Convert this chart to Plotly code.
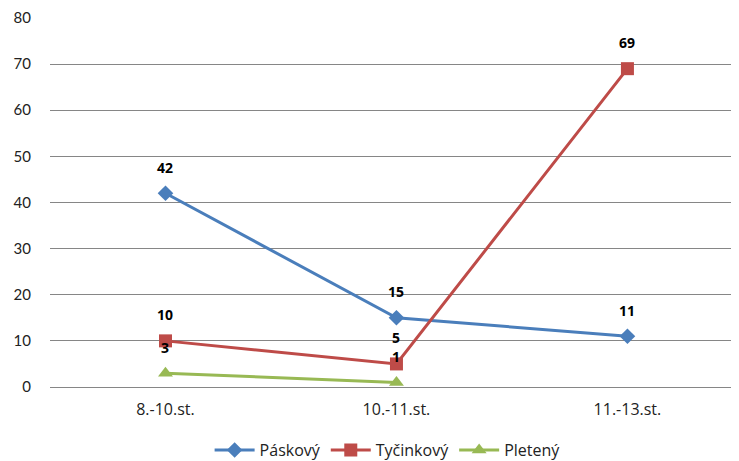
import plotly.graph_objects as go

categories = ["8.-10.st.", "10.-11.st.", "11.-13.st."]
paskovy = [42, 15, 11]
tycinkovy = [10, 5, 69]
pleteny = [3, 1, None]
series_names = ["Páskový", "Tyčinkový", "Pletený"]
y_ticks = [0, 10, 20, 30, 40, 50, 60, 70, 80]

colors = ["#4A7EBB", "#BE4B48", "#98B954"]
symbols = ["diamond", "square", "triangle-up"]
sizes = [12, 13, 13]
wide_font = "'Open Sans', Lato, sans-serif"
narrow_font = "Lato, 'Open Sans', sans-serif"

fig = go.Figure()
annotations = []
for name, vals, col, sym, sz in zip(series_names, [paskovy, tycinkovy, pleteny], colors, symbols, sizes):
    fig.add_trace(go.Scatter(
        x=categories, y=vals, name=name, mode="lines+markers",
        line=dict(color=col, width=3),
        marker=dict(symbol=sym, size=sz, color=col),
        connectgaps=False,
    ))
    for c, v in zip(categories, vals):
        if v is None:
            continue
        annotations.append(dict(
            x=c, y=v, text=f"<b>{v}</b>", showarrow=False,
            yshift=26, font=dict(family=wide_font, size=14, color="#000000"),
        ))

# page body has an 8px margin, so the figure is sized to fit the 739x461 window
fig.update_layout(
    width=731, height=453,
    margin=dict(l=42, r=0, t=9, b=74, autoexpand=False),
    paper_bgcolor="white", plot_bgcolor="white",
    font=dict(family=wide_font, size=15, color="#222222"),
    annotations=annotations,
    showlegend=True,
    legend=dict(orientation="h", x=0.49, xanchor="center", yref="container",
                y=0.024, yanchor="middle",
                font=dict(family=wide_font, size=16, color="#222222"),
                itemwidth=40, tracegroupgap=0),
    xaxis=dict(type="category", showgrid=False, showline=True, linecolor="#868686",
               linewidth=1, ticks="", tickfont=dict(family=wide_font, size=16),
               ticklabelstandoff=8, range=[-0.5, 2.483], zeroline=False),
    yaxis=dict(range=[0, 80.2], tickvals=y_ticks, showgrid=True, gridcolor="#868686",
               gridwidth=1, zeroline=False, showline=False, ticks="",
               tickfont=dict(family=narrow_font, size=15), ticklabelstandoff=18),
)

fig.write_html("out.html")
